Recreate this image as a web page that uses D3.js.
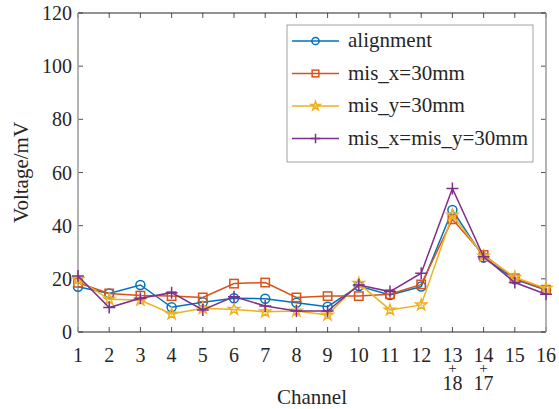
<!DOCTYPE html>
<html>
<head>
<meta charset="utf-8">
<script src="https://cdn.jsdelivr.net/npm/d3@7"></script>
<style>
  body { margin: 0; background: #fff; }
</style>
</head>
<body>
<div id="chart"></div>
<script>
(() => {

// data
const channels = [1, 2, 3, 4, 5, 6, 7, 8, 9, 10, 11, 12, 13, 14, 15, 16];
const tickLabels = ["1", "2", "3", "4", "5", "6", "7", "8", "9", "10", "11", "12", "13", "14", "15", "16"];
const tickSubLabels = ["", "", "", "", "", "", "", "", "", "", "", "", "18", "17", "", ""];
const alignment = [17.0, 14.5, 17.7, 9.3, 11.2, 12.7, 12.5, 11.0, 9.5, 17.3, 13.9, 17.1, 45.9, 28.0, 19.8, 15.8];
const misX = [18.5, 14.5, 13.7, 13.5, 13.0, 18.2, 18.6, 13.0, 13.5, 13.5, 14.2, 17.9, 42.4, 29.0, 20.2, 15.9];
const misY = [19.8, 12.3, 12.0, 6.8, 8.9, 8.5, 7.6, 7.9, 6.4, 18.3, 8.3, 10.2, 44.0, 28.6, 20.6, 16.4];
const misXY = [21.1, 9.2, 12.7, 14.8, 8.3, 13.3, 9.8, 7.9, 7.9, 17.7, 15.2, 22.1, 54.0, 28.3, 18.6, 14.2];
const seriesNames = ["alignment", "mis_x=30mm", "mis_y=30mm", "mis_x=mis_y=30mm"];
const yTicks = [0, 20, 40, 60, 80, 100, 120];

const W = 559, H = 409;
const margin = { left: 78, right: 13, top: 13, bottom: 77 };

const svg = d3.select("#chart").append("svg")
  .attr("width", W).attr("height", H);

// all texts in Times-like serif
function label(g, str, size) {
  return g.append("text").attr("font-family", "Liberation Serif")
    .attr("font-size", size).attr("fill", "#262626").text(str);
}

const x = d3.scaleLinear().domain([1, 16]).range([margin.left, W - margin.right]);
const y = d3.scaleLinear().domain([0, 120]).range([H - margin.bottom, margin.top]);

const series = [
  { name: seriesNames[0], values: alignment, color: "#0072BD", marker: "circle" },
  { name: seriesNames[1], values: misX, color: "#D95319", marker: "square" },
  { name: seriesNames[2], values: misY, color: "#EDB120", marker: "star" },
  { name: seriesNames[3], values: misXY, color: "#7E2F8E", marker: "plus" }
];

const x0 = x.range()[0], x1 = x.range()[1], y0 = y.range()[0], y1 = y.range()[1];

// y ticks (left and right, pointing in)
yTicks.forEach(t => {
  svg.append("line").attr("x1", x0).attr("x2", x0 + 5).attr("y1", y(t)).attr("y2", y(t))
    .attr("stroke", "#262626").attr("stroke-width", 0.8);
  svg.append("line").attr("x1", x1).attr("x2", x1 - 5).attr("y1", y(t)).attr("y2", y(t))
    .attr("stroke", "#262626").attr("stroke-width", 0.8);
  label(svg, t, 20).attr("x", x0 - 6).attr("y", y(t)).attr("dy", "0.35em")
    .attr("text-anchor", "end");
});

// x ticks
channels.forEach((c, i) => {
  svg.append("line").attr("x1", x(c)).attr("x2", x(c)).attr("y1", y0).attr("y2", y0 - 5)
    .attr("stroke", "#262626").attr("stroke-width", 0.8);
  svg.append("line").attr("x1", x(c)).attr("x2", x(c)).attr("y1", y1).attr("y2", y1 + 5)
    .attr("stroke", "#262626").attr("stroke-width", 0.8);
  label(svg, tickLabels[i], 20).attr("x", x(c)).attr("y", y0 + 30).attr("text-anchor", "middle");
  if (tickSubLabels[i]) {
    label(svg, "+", 15).attr("x", x(c)).attr("y", y0 + 41).attr("text-anchor", "middle");
    label(svg, tickSubLabels[i], 20).attr("x", x(c)).attr("y", y0 + 58).attr("text-anchor", "middle");
  }
});

svg.append("line").attr("x1", x0).attr("x2", x1).attr("y1", y1).attr("y2", y1).attr("stroke", "#262626");
svg.append("line").attr("x1", x0).attr("x2", x1).attr("y1", y0).attr("y2", y0).attr("stroke", "#262626");
svg.append("line").attr("x1", x0).attr("x2", x0).attr("y1", y1).attr("y2", y0).attr("stroke", "#9a9a9a").attr("stroke-width", 1.5);
svg.append("line").attr("x1", x1).attr("x2", x1).attr("y1", y1).attr("y2", y0).attr("stroke", "#9a9a9a").attr("stroke-width", 1.5);

// axis labels
label(svg, "Channel", 21).attr("x", (x0 + x1) / 2).attr("y", H - 5).attr("text-anchor", "middle");
label(svg, "Voltage/mV", 21).attr("transform", `translate(28,${(y0 + y1) / 2}) rotate(-90)`)
  .attr("text-anchor", "middle");

// markers
function drawMarker(g, type, cx, cy, color, s) {
  s = s || 1;
  if (type === "circle") {
    g.append("circle").attr("cx", cx).attr("cy", cy).attr("r", 4.5 * s)
      .attr("fill", "none").attr("stroke", color).attr("stroke-width", 1.5);
  } else if (type === "square") {
    g.append("rect").attr("x", cx - 4.2 * s).attr("y", cy - 4.2 * s)
      .attr("width", 8.4 * s).attr("height", 8.4 * s)
      .attr("fill", "none").attr("stroke", color).attr("stroke-width", 1.5);
  } else if (type === "star") {
    g.append("path").attr("d", d3.symbol(d3.symbolStar, 38 * s * s)())
      .attr("transform", `translate(${cx},${cy})`)
      .attr("fill", "none").attr("stroke", color).attr("stroke-width", 1.5);
  } else {
    const r = 6 * s;
    g.append("path").attr("d", `M${cx - r},${cy}H${cx + r}M${cx},${cy - r}V${cy + r}`)
      .attr("stroke", color).attr("stroke-width", 1.5);
  }
}

const line = d3.line().x((d, i) => x(channels[i])).y(d => y(d));

series.forEach(s => {
  const g = svg.append("g");
  g.append("path").datum(s.values).attr("d", line)
    .attr("fill", "none").attr("stroke", s.color).attr("stroke-width", 1.5);
  s.values.forEach((v, i) => drawMarker(g, s.marker, x(channels[i]), y(v), s.color));
});

// legend
const lg = svg.append("g");
lg.append("rect").attr("x", 287).attr("y", 25).attr("width", 246).attr("height", 137)
  .attr("fill", "#fff").attr("stroke", "#8c8c8c").attr("stroke-width", 0.8);
series.forEach((s, i) => {
  const ly = 41 + i * 32.5;
  lg.append("line").attr("x1", 292).attr("x2", 339).attr("y1", ly).attr("y2", ly)
    .attr("stroke", s.color).attr("stroke-width", 1.5);
  drawMarker(lg, s.marker, 315.5, ly, s.color, 0.8);
  label(lg, s.name, 21).attr("x", 348).attr("y", ly).attr("dy", "0.3em");
});

})();
</script>
</body>
</html>
